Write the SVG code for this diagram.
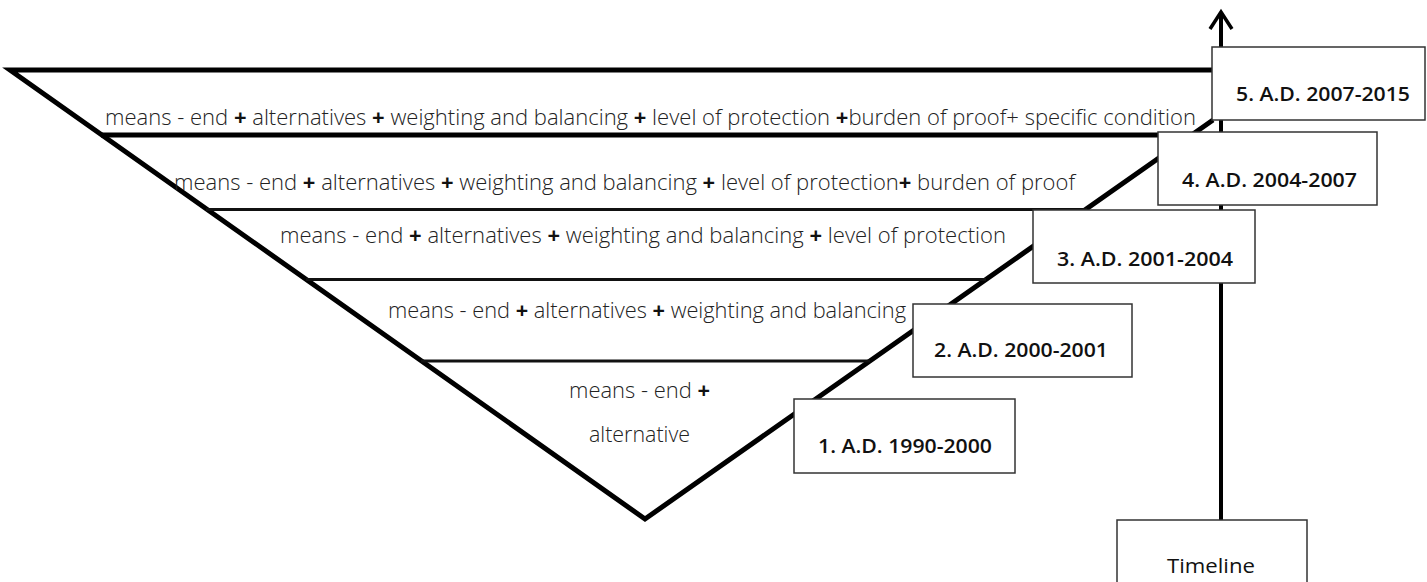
<svg xmlns="http://www.w3.org/2000/svg" width="1427" height="582" viewBox="0 0 1427 582">
<defs>
<style>
.row{font-family:"Open Sans","Noto Sans","DejaVu Sans",sans-serif;font-size:22px;font-weight:300;fill:#222;}
.row .p{font-weight:700;fill:#111;}
.lbl{font-family:"Open Sans","Noto Sans","DejaVu Sans",sans-serif;font-size:20px;font-weight:600;fill:#111;}
.box{fill:#fff;stroke:#333;stroke-width:1.5;}
.thick{stroke:#000;stroke-width:5;fill:none;}
.mid{stroke:#111;stroke-width:3;fill:none;}
</style>
<marker id="arr" markerUnits="userSpaceOnUse" markerWidth="40" markerHeight="40" refX="0" refY="0" orient="auto" overflow="visible">
<path d="M-17,-11 L0,0 L-17,11" fill="none" stroke="#000" stroke-width="3.5"/>
</marker>
</defs>
<rect width="1427" height="582" fill="#fff"/>
<g id="connectors">
<polyline class="thick" points="1213,70 10,70 645,519 1213,120" stroke-linejoin="miter"/>
<line class="thick" x1="101" y1="135" x2="1192" y2="135"/>
<line class="mid" x1="206" y1="209.5" x2="1087" y2="209.5"/>
<line class="mid" x1="306" y1="279.5" x2="986" y2="279.5"/>
<line class="mid" x1="421" y1="361" x2="870" y2="361"/>
<line stroke="#000" stroke-width="4" x1="1221" y1="520" x2="1221" y2="12" marker-end="url(#arr)"/>
</g>
<g id="level5"><text class="row" x="105" y="125" textLength="1091" lengthAdjust="spacingAndGlyphs">means - end <tspan class="p">+</tspan> alternatives <tspan class="p">+</tspan> weighting and balancing <tspan class="p">+</tspan> level of protection <tspan class="p">+</tspan>burden of proof+ specific condition</text></g>
<g id="level4"><text class="row" x="174" y="190" textLength="901" lengthAdjust="spacingAndGlyphs">means - end <tspan class="p">+</tspan> alternatives <tspan class="p">+</tspan> weighting and balancing <tspan class="p">+</tspan> level of protection<tspan class="p">+</tspan> burden of proof</text></g>
<g id="level3"><text class="row" x="280" y="243" textLength="726" lengthAdjust="spacingAndGlyphs">means - end <tspan class="p">+</tspan> alternatives <tspan class="p">+</tspan> weighting and balancing <tspan class="p">+</tspan> level of protection</text></g>
<g id="level2"><text class="row" x="388" y="318" textLength="518" lengthAdjust="spacingAndGlyphs">means - end <tspan class="p">+</tspan> alternatives <tspan class="p">+</tspan> weighting and balancing</text></g>
<g id="level1">
<text class="row" x="569" y="398" textLength="141" lengthAdjust="spacingAndGlyphs">means - end <tspan class="p">+</tspan></text>
<text class="row" x="589" y="442" textLength="101" lengthAdjust="spacingAndGlyphs">alternative</text>
</g>
<g id="period5"><rect class="box" x="1212" y="47" width="213" height="73"/><text class="lbl" x="1236" y="101" textLength="174" lengthAdjust="spacingAndGlyphs">5. A.D. 2007-2015</text></g>
<g id="period4"><rect class="box" x="1158" y="132" width="219" height="73"/><text class="lbl" x="1182" y="187" textLength="175" lengthAdjust="spacingAndGlyphs">4. A.D. 2004-2007</text></g>
<g id="period3"><rect class="box" x="1033" y="210" width="222" height="73"/><text class="lbl" x="1057" y="266" textLength="176" lengthAdjust="spacingAndGlyphs">3. A.D. 2001-2004</text></g>
<g id="period2"><rect class="box" x="913" y="304" width="219" height="73"/><text class="lbl" x="934" y="357" textLength="174" lengthAdjust="spacingAndGlyphs">2. A.D. 2000-2001</text></g>
<g id="period1"><rect class="box" x="794" y="399" width="221" height="74"/><text class="lbl" x="818" y="453" textLength="174" lengthAdjust="spacingAndGlyphs">1. A.D. 1990-2000</text></g>
<g id="timeline"><rect class="box" x="1117" y="520" width="190" height="70"/><text class="lbl" x="1167" y="573" textLength="88" lengthAdjust="spacingAndGlyphs" style="font-weight:500">Timeline</text></g>
</svg>
